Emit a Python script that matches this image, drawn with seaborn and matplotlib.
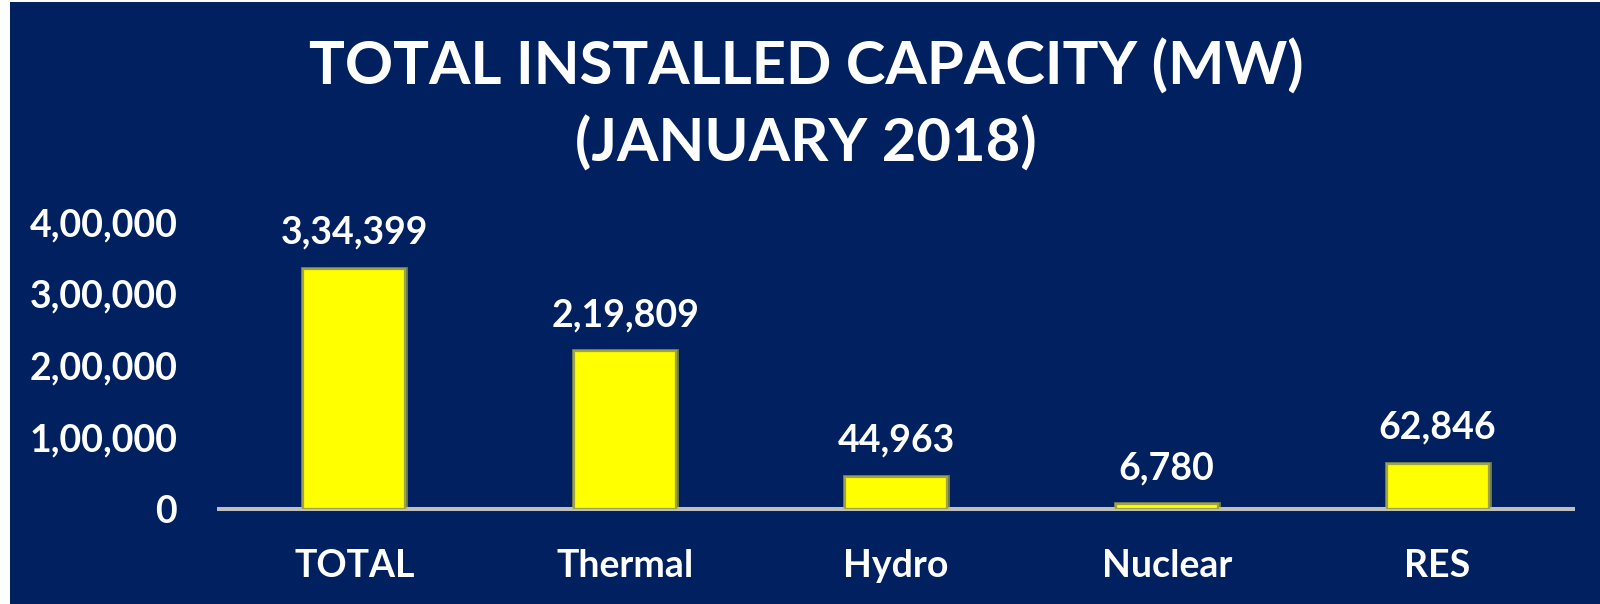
import matplotlib
matplotlib.use("Agg")
import matplotlib.pyplot as plt
import seaborn as sns
import pandas as pd
from matplotlib.patches import Rectangle
import matplotlib.patheffects as pe

categories = ["TOTAL", "Thermal", "Hydro", "Nuclear", "RES"]
capacity_mw = [334399, 219809, 44963, 6780, 62846]
value_labels = ["3,34,399", "2,19,809", "44,963", "6,780", "62,846"]
y_ticks = [0, 100000, 200000, 300000, 400000]
y_tick_labels = ["0", "1,00,000", "2,00,000", "3,00,000", "4,00,000"]
title_text = "TOTAL INSTALLED CAPACITY (MW)\n(JANUARY 2018)"

NAVY = "#002060"
YELLOW = "#ffff00"
WHITE = "#ffffff"

sns.set_theme(style="white")
plt.rcParams["font.family"] = ["Lato", "DejaVu Sans"]
plt.rcParams["font.weight"] = "bold"

fig = plt.figure(figsize=(16, 6.04), dpi=100)
fig.patch.set_facecolor(WHITE)
fig.add_artist(Rectangle((10 / 1600, 0), 1 - 10 / 1600, 1 - 2 / 604,
                         transform=fig.transFigure, facecolor=NAVY,
                         edgecolor="none", zorder=0))

ax = fig.add_axes([219 / 1600, (604 - 509) / 604, 1354 / 1600, 287 / 604])
ax.set_facecolor("none")

df = pd.DataFrame({"category": categories, "capacity": capacity_mw})
sns.barplot(data=df, x="category", y="capacity", ax=ax, color=YELLOW,
            width=0.377, edgecolor="#9ea24e", linewidth=1.6, saturation=1)
for p in ax.patches:
    p.set_path_effects([pe.Stroke(linewidth=3.5, foreground="#c8c832", alpha=0.55),
                        pe.Normal()])

ax.set_ylim(0, 400000)
ax.set_xlim(-0.5, len(categories) - 0.5)
ax.set_yticks(y_ticks)
ax.set_yticklabels(y_tick_labels)
ax.set_xlabel("")
ax.set_ylabel("")

fs = 27
ax.tick_params(axis="y", length=0, pad=30, labelsize=fs, labelcolor=WHITE)
ax.tick_params(axis="x", length=0, pad=29, labelsize=fs, labelcolor=WHITE)
for lab in ax.get_xticklabels() + ax.get_yticklabels():
    lab.set_fontweight("bold")

for s in ["top", "right", "left"]:
    ax.spines[s].set_visible(False)
ax.spines["bottom"].set_color("#bfbfbf")
ax.spines["bottom"].set_linewidth(2.9)
ax.spines["bottom"].set_zorder(0.5)

for i, (v, lab) in enumerate(zip(capacity_mw, value_labels)):
    ax.annotate(lab, xy=(i, v), xytext=(0, 26), textcoords="offset points",
                ha="center", va="center", color=WHITE, fontsize=fs,
                fontweight="bold", annotation_clip=False)

fig.text(806 / 1600, 1 - 105 / 604, title_text, ha="center", va="center",
         color=WHITE, fontsize=43, fontweight="bold", linespacing=1.45)

fig.savefig("out.png", dpi=100, facecolor=fig.get_facecolor())
